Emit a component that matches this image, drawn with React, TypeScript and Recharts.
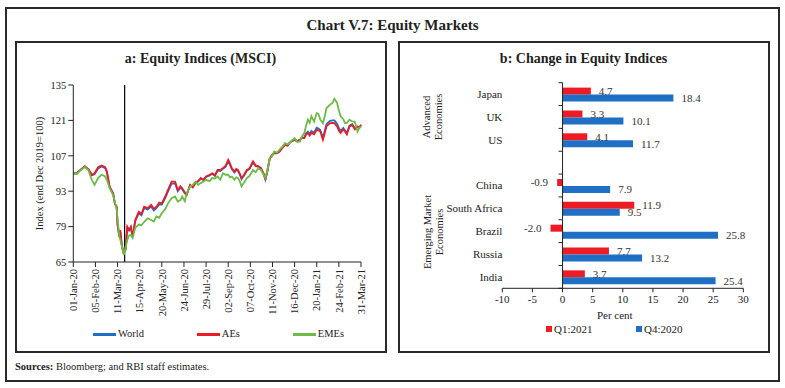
import React from 'react';
import {
  LineChart, Line, XAxis, YAxis, ReferenceLine, Label,
  BarChart, Bar, LabelList,
} from 'recharts';

// ---------- Panel a: Equity Indices (MSCI) ----------
const dateTickLabels = [
  '01-Jan-20', '05-Feb-20', '11-Mar-20', '15-Apr-20', '20-May-20', '24-Jun-20',
  '29-Jul-20', '02-Sep-20', '07-Oct-20', '11-Nov-20', '16-Dec-20', '20-Jan-21',
  '24-Feb-21', '31-Mar-21',
];
// business-day index of each tick label
const dateTickDays = [0, 25, 50, 75, 100, 125, 150, 175, 200, 225, 250, 275, 300, 325];
const indexTicks = [65, 79, 93, 107, 121, 135];
const markerDay = 58; // 23-Mar-20

// business-day index of each reading
const dayIndex = [
  0, 4, 8, 13, 17, 21, 24, 28, 32, 36, 38, 41, 45, 47, 49, 50, 52, 53, 55, 57,
  59, 61, 63, 65, 67, 70, 74, 77, 80, 84, 88, 91, 94, 97, 100, 104, 107, 111, 115, 118,
  121, 123, 126, 128, 132, 135, 138, 141, 144, 147, 150, 154, 157, 160, 163, 166, 169, 172, 175, 177,
  179, 182, 184, 186, 188, 190, 193, 196, 199, 203, 206, 209, 212, 215, 217, 219, 222, 224, 227, 230,
  233, 236, 239, 242, 244, 247, 250, 253, 256, 258, 261, 263, 265, 267, 269, 272, 275, 277, 279, 282,
  284, 286, 288, 290, 293, 295, 297, 298, 300, 302, 305, 307, 309, 312, 315, 318, 321, 323, 325,
];
const worldIndex = [
  100.0, 100.1, 101.4, 102.8, 101.6, 99.3, 99.7, 102.0, 102.8, 102.1, 100.4, 94.7, 92.1, 88.1, 86.8, 80.0, 75.0, 77.2, 71.1, 68.5,
  69.9, 78.4, 77.4, 78.6, 75.0, 81.2, 84.3, 83.5, 86.3, 85.8, 86.9, 85.4, 86.4, 87.8, 87.7, 90.4, 92.9, 96.0, 96.1, 93.0,
  94.4, 93.8, 92.1, 91.6, 95.4, 94.6, 96.3, 96.8, 98.0, 97.4, 98.6, 99.2, 99.9, 99.1, 101.1, 101.0, 101.9, 102.6, 104.8, 103.4,
  101.8, 100.4, 101.4, 101.0, 99.7, 97.8, 99.2, 101.1, 101.7, 104.4, 102.9, 102.7, 102.0, 99.9, 97.6, 100.6, 106.1, 107.0, 108.2, 108.1,
  108.8, 110.1, 111.5, 111.1, 112.0, 112.9, 113.4, 112.8, 113.3, 114.1, 114.3, 115.9, 116.6, 115.6, 116.8, 116.1, 118.1, 117.8, 117.2, 114.1,
  116.8, 119.5, 120.2, 120.8, 121.0, 121.0, 120.1, 119.7, 118.0, 116.8, 118.0, 117.0, 116.0, 118.9, 119.5, 117.9, 118.4, 118.0, 119.2,
];
const aesIndex = [
  100.0, 100.1, 101.4, 102.8, 101.7, 99.5, 100.1, 102.5, 103.2, 102.5, 100.8, 94.8, 92.2, 88.0, 86.9, 79.7, 75.0, 77.6, 71.1, 68.6,
  69.8, 79.0, 77.7, 79.0, 75.0, 81.6, 84.9, 84.0, 86.9, 86.3, 87.6, 86.0, 86.9, 88.5, 88.2, 91.0, 93.5, 96.8, 96.8, 93.5,
  95.0, 94.2, 92.5, 91.5, 95.5, 94.5, 96.2, 97.0, 98.2, 97.5, 98.8, 99.5, 100.1, 99.3, 101.4, 101.4, 102.1, 103.0, 105.4, 104.0,
  102.1, 100.8, 101.8, 101.4, 100.0, 98.2, 99.5, 101.4, 102.0, 104.8, 103.2, 102.8, 102.1, 100.0, 97.5, 100.5, 106.1, 107.0, 108.1, 108.0,
  108.7, 110.0, 111.4, 111.0, 112.0, 112.8, 113.3, 112.8, 113.3, 114.0, 114.0, 115.5, 116.0, 115.0, 116.0, 115.5, 117.3, 117.0, 116.6, 113.3,
  116.0, 118.6, 119.3, 119.9, 120.0, 119.9, 119.0, 118.6, 117.0, 116.0, 117.5, 116.6, 115.5, 118.6, 119.3, 117.5, 118.6, 118.0, 119.3,
];
const emesIndex = [
  100.0, 99.8, 101.2, 102.6, 101.3, 97.5, 95.5, 98.2, 99.5, 98.8, 97.5, 94.2, 91.5, 88.5, 86.0, 82.0, 75.0, 74.0, 71.0, 67.8,
  70.5, 73.7, 75.5, 75.7, 74.5, 78.5, 79.8, 79.5, 80.8, 82.3, 81.6, 81.0, 83.0, 82.5, 84.3, 86.0, 88.2, 90.2, 90.9, 88.9,
  89.5, 90.9, 89.0, 92.2, 94.8, 95.5, 96.8, 95.5, 96.2, 96.8, 97.5, 97.0, 98.2, 98.0, 98.8, 97.5, 100.1, 99.5, 99.5, 98.5,
  98.8, 97.5, 98.5, 98.2, 97.0, 94.9, 96.5, 98.2, 99.0, 101.4, 100.5, 102.1, 101.4, 99.5, 98.2, 101.0, 106.1, 106.5, 108.7, 108.2,
  109.4, 110.5, 112.0, 111.5, 112.0, 113.0, 114.0, 112.5, 112.7, 114.5, 116.0, 119.0, 121.3, 120.0, 122.6, 120.5, 123.9, 123.5, 121.3, 119.9,
  122.5, 125.9, 126.5, 127.2, 128.0, 129.5, 128.5, 127.9, 125.0, 122.6, 121.5, 119.9, 120.0, 121.3, 120.6, 120.5, 116.6, 118.0, 118.6,
];

// ---------- Panel b: Change in Equity Indices ----------
const countries = ['Japan', 'UK', 'US', ' ', 'China', 'South Africa', 'Brazil', 'Russia', 'India'];
const changeQ1_2021 = [4.7, 3.3, 4.1, null, -0.9, 11.9, -2.0, 7.7, 3.7];
const changeQ4_2020 = [18.4, 10.1, 11.7, null, 7.9, 9.5, 25.8, 13.2, 25.4];
const percentTicks = [-10, -5, 0, 5, 10, 15, 20, 25, 30];

const lineData = dayIndex.map((d, k) => ({
  day: d, world: worldIndex[k], aes: aesIndex[k], emes: emesIndex[k],
}));
const barData = countries.map((c, k) => ({
  country: c, q1: changeQ1_2021[k], q4: changeQ4_2020[k],
}));

const BLUE = '#1f6fc4';
const RED = '#ed1c24';
const GREEN = '#6cbb45';
const INK = '#222';
const FONT = '"Liberation Serif", "DejaVu Serif", serif';

const DateTick = (props: any) => {
  const { x, y, payload } = props;
  const k = dateTickDays.indexOf(payload.value);
  return (
    <g transform={`translate(${x},${y})`}>
      <text transform="rotate(-90)" textAnchor="end" dy="0.35em" fontSize={10.5} fill={INK} fontFamily={FONT}>
        {k >= 0 ? dateTickLabels[k] : ''}
      </text>
    </g>
  );
};

const YTitle = (props: any) => {
  const vb = props.viewBox || {};
  const cx = vb.x + 24;
  const cy = vb.y + vb.height / 2;
  return (
    <text x={cx} y={cy} transform={`rotate(-90, ${cx}, ${cy})`} textAnchor="middle" dominantBaseline="central"
      fontSize={10.5} fill={INK} fontFamily={FONT}>
      Index (end Dec 2019=100)
    </text>
  );
};

const ZeroAxis = (props: any) => {
  const { x1, y1, x2, y2 } = props;
  const n = countries.length;
  const ticks = [];
  for (let k = 0; k <= n; k++) {
    const y = y1 + ((y2 - y1) * k) / n;
    ticks.push(<line key={k} x1={x1 - 4} x2={x1} y1={y} y2={y} stroke={INK} strokeWidth={1} />);
  }
  return (
    <g>
      <line x1={x1} y1={y1} x2={x2} y2={y2} stroke={INK} strokeWidth={1} />
      {ticks}
    </g>
  );
};

const ValueLabel = (props: any) => {
  const { x, y, width, height, value } = props;
  if (value === null || value === undefined) return null;
  const v = Number(value);
  const left = Math.min(x, x + width);
  const right = Math.max(x, x + width);
  const tx = v < 0 ? left - 9 : right + 8;
  return (
    <text x={tx} y={y + height / 2} dy="0.35em" textAnchor={v < 0 ? 'end' : 'start'}
      fontSize={11} fill="#333" fontFamily={FONT}>
      {v.toFixed(1)}
    </text>
  );
};

const box = (left: number, top: number, w: number, h: number, bw: number) => ({
  position: 'absolute' as const, left, top, width: w, height: h,
  border: `${bw}px solid #2a2a2a`, boxSizing: 'border-box' as const,
});

const rotatedLabel = {
  position: 'absolute' as const, transform: 'translate(-50%,-50%) rotate(-90deg)',
  textAlign: 'center' as const, fontSize: 10.5, lineHeight: '12px', whiteSpace: 'nowrap' as const,
};

export default function App() {
  return (
    <div style={{ position: 'absolute', left: 0, top: 0, width: 785, height: 388, background: '#fff', fontFamily: FONT, color: INK, overflow: 'hidden' }}>
      <div style={box(5, 7, 775, 375, 2)} />
      <div style={box(15, 41, 372, 312, 2)} />
      <div style={box(398, 41, 372, 312, 2)} />

      <div style={{ position: 'absolute', left: 0, width: 785, top: 15, textAlign: 'center', fontWeight: 'bold', fontSize: 15, lineHeight: '20px' }}>
        Chart V.7: Equity Markets
      </div>
      <div style={{ position: 'absolute', left: 15, width: 371, top: 50, textAlign: 'center', fontWeight: 'bold', fontSize: 14, lineHeight: '18px' }}>
        a: Equity Indices (MSCI)
      </div>
      <div style={{ position: 'absolute', left: 398, width: 371, top: 50, textAlign: 'center', fontWeight: 'bold', fontSize: 14, lineHeight: '18px' }}>
        b: Change in Equity Indices
      </div>

      <div style={{ position: 'absolute', left: 15, top: 41 }}>
        <LineChart width={371} height={311} data={lineData} margin={{ top: 44, right: 25, bottom: 30, left: 0 }}>
          <XAxis dataKey="day" type="number" domain={[0, 325]} ticks={dateTickDays} interval={0}
            tick={<DateTick />} tickSize={5} tickMargin={2} height={60} stroke={INK} />
          <YAxis domain={[65, 135]} ticks={indexTicks} interval={0} width={58.3} tickSize={5} tickMargin={2}
            stroke={INK} tick={{ fontSize: 10.5, fill: INK, fontFamily: FONT }}>
            <Label content={<YTitle />} />
          </YAxis>
          <ReferenceLine x={markerDay} stroke="#000" strokeWidth={1.2} />
          <Line dataKey="world" stroke={BLUE} strokeWidth={1.8} dot={false} isAnimationActive={false} />
          <Line dataKey="aes" stroke={RED} strokeWidth={1.8} dot={false} isAnimationActive={false} />
          <Line dataKey="emes" stroke={GREEN} strokeWidth={1.8} dot={false} isAnimationActive={false} />
        </LineChart>
      </div>

      <div style={{ position: 'absolute', left: 93, top: 327, width: 251, display: 'flex', justifyContent: 'space-between', fontSize: 10.5, lineHeight: '14px' }}>
        {[['World', BLUE], ['AEs', RED], ['EMEs', GREEN]].map(([n, c]) => (
          <div key={n} style={{ display: 'flex', alignItems: 'center' }}>
            <span style={{ display: 'inline-block', width: 23, height: 3, background: c, marginRight: 2 }} />
            <span>{n}</span>
          </div>
        ))}
      </div>

      <div style={{ position: 'absolute', left: 398, top: 41 }}>
        <BarChart layout="vertical" width={371} height={311} data={barData}
          margin={{ top: 41.7, right: 25.7, bottom: 32.7, left: 0 }} barCategoryGap="21.5%" barGap={0}>
          <XAxis type="number" domain={[-10, 30]} ticks={percentTicks} interval={0} tickSize={4} tickMargin={3}
            height={31} stroke={INK} tick={{ fontSize: 11, fill: INK, fontFamily: FONT }}>
            <Label value="Per cent" position="insideBottom" offset={0} dx={-8} fontSize={11} fill={INK} fontFamily={FONT} />
          </XAxis>
          <YAxis type="category" dataKey="country" width={104.3} axisLine={false} tickLine={false}
            tickSize={0} tickMargin={0} interval={0} tick={{ fontSize: 11, fill: INK, fontFamily: FONT }} />
          <Bar dataKey="q1" name="Q1:2021" fill={RED} isAnimationActive={false}>
            <LabelList dataKey="q1" content={<ValueLabel />} />
          </Bar>
          <Bar dataKey="q4" name="Q4:2020" fill={BLUE} isAnimationActive={false}>
            <LabelList dataKey="q4" content={<ValueLabel />} />
          </Bar>
          <ReferenceLine x={0} stroke={INK} shape={<ZeroAxis />} />
        </BarChart>
      </div>

      <div style={{ position: 'absolute', left: 433, top: 117, width: 0, height: 0 }}>
        <div style={rotatedLabel}>Advanced<br />Economies</div>
      </div>
      <div style={{ position: 'absolute', left: 434, top: 232, width: 0, height: 0 }}>
        <div style={rotatedLabel}>Emerging Market<br />Economies</div>
      </div>

      <div style={{ position: 'absolute', left: 546, top: 322, display: 'flex', fontSize: 11, lineHeight: '14px' }}>
        {[['Q1:2021', RED], ['Q4:2020', BLUE]].map(([n, c]) => (
          <div key={n} style={{ display: 'flex', alignItems: 'center', width: 90 }}>
            <span style={{ display: 'inline-block', width: 6, height: 6, background: c, marginRight: 2 }} />
            <span>{n}</span>
          </div>
        ))}
      </div>

      <div style={{ position: 'absolute', left: 15, top: 360, fontSize: 10.5, lineHeight: '13px' }}>
        <b>Sources:</b> Bloomberg; and RBI staff estimates.
      </div>
    </div>
  );
}
